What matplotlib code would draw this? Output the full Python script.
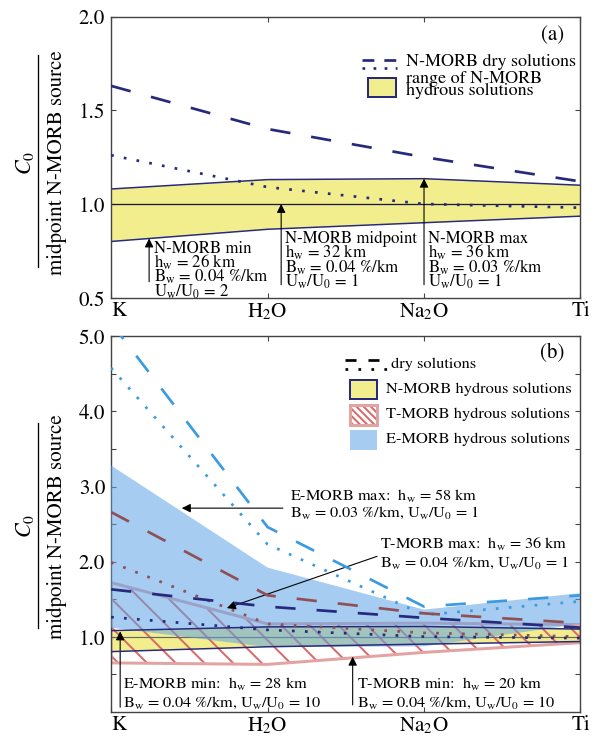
import numpy as np
import matplotlib
matplotlib.use('Agg')
import matplotlib.pyplot as plt
from matplotlib.lines import Line2D
from matplotlib.patches import Rectangle

# agg hatch tile follows the dpi, so the dpi sets the hatch spacing
DPI = 172


def px(v):
    return v * 72.0 / DPI


plt.rcParams['font.family'] = 'STIXGeneral'
plt.rcParams['mathtext.fontset'] = 'stix'
plt.rcParams['hatch.linewidth'] = px(2.0)

elements = ['K', 'H$_2$O', 'Na$_2$O', 'Ti']
x = np.arange(len(elements))

# N-MORB, shown in both panels
nmorb_dry_dash = [1.63, 1.40, 1.25, 1.12]
nmorb_dry_dot = [1.26, 1.09, 1.00, 0.98]
nmorb_hyd_lo = [0.80, 0.865, 0.90, 0.935]
nmorb_hyd_hi = [1.08, 1.13, 1.135, 1.10]
nmorb_mid = [1.0, 1.0, 1.0, 1.0]

# T-MORB and E-MORB, panel b
tmorb_dry_dash = [2.66, 1.55, 1.31, 1.18]
tmorb_dry_dot = [1.99, 1.17, 1.05, 1.00]
tmorb_hyd_lo = [0.65, 0.63, 0.79, 0.92]
tmorb_hyd_hi = [1.72, 1.17, 1.18, 1.16]
emorb_dry_dash = [5.18, 2.46, 1.40, 1.55]
emorb_dry_dot = [4.58, 2.23, 1.29, 1.47]
emorb_hyd_lo = [1.12, 0.86, 0.87, 1.17]
emorb_hyd_hi = [3.28, 1.92, 1.36, 1.58]

navy = '#26297c'
lblue = '#3a9be0'
brown = '#8e4f55'
yellow = '#f3ee8d'
blue_fill = '#5fa3e6'
hatch_red = '#d86a6a'
pink_edge = '#e3a3a3'
axcol = '#444444'

DASH = (0, (7.5, 7.8))
DOT = (0, (1.0, 3.8))
LW = px(2.7)

W, H = 598, 740
fig = plt.figure(figsize=((W + 0.5) / DPI, (H + 0.5) / DPI), dpi=DPI)
ax1 = fig.add_axes([111 / W, 1 - 298 / H, 469 / W, 281 / H])
ax2 = fig.add_axes([111 / W, 1 - 711.7 / H, 469 / W, 375 / H])


def note(ax, lines, xy, step, size=16.8):
    for i, s in enumerate(lines):
        ax.annotate(s, xy=xy, xytext=(0, -i * step), textcoords='offset pixels',
                    fontsize=px(size), ha='left', va='baseline')


def arrow(ax, tail, tip):
    ax.annotate('', xy=tip, xytext=tail,
                arrowprops=dict(arrowstyle='-|>', color='k', lw=px(1.1),
                                shrinkA=0, shrinkB=0, mutation_scale=px(18)))


# ---- panel (a)
ax1.fill_between(x, nmorb_hyd_lo, nmorb_hyd_hi, facecolor=yellow, edgecolor='none', zorder=1)
ax1.plot(x, nmorb_hyd_lo, color=navy, lw=px(1.5), zorder=2)
ax1.plot(x, nmorb_hyd_hi, color=navy, lw=px(1.5), zorder=2)
ax1.plot(x, nmorb_mid, color='#1a1a40', lw=px(1.3), zorder=2)
ax1.plot(x, nmorb_dry_dash, color=navy, lw=LW, ls=DASH, zorder=4)
ax1.plot(x, nmorb_dry_dot, color=navy, lw=LW, ls=DOT, zorder=4)

arrow(ax1, (0.243, 0.585), (0.243, 0.816))
arrow(ax1, (1.087, 0.569), (1.087, 1.0))
arrow(ax1, (2.0, 0.569), (2.0, 1.135))
note(ax1, ['N-MORB min', r'h$_{\rm w}$ = 26 km', r'B$_{\rm w}$ = 0.04 %/km',
           r'U$_{\rm w}$/U$_0$ = 2'], (0.275, 0.740), 14.3)
note(ax1, ['N-MORB midpoint', r'h$_{\rm w}$ = 32 km', r'B$_{\rm w}$ = 0.04 %/km',
           r'U$_{\rm w}$/U$_0$ = 1'], (1.113, 0.792), 14.5)
note(ax1, ['N-MORB max', r'h$_{\rm w}$ = 36 km', r'B$_{\rm w}$ = 0.03 %/km',
           r'U$_{\rm w}$/U$_0$ = 1'], (2.028, 0.792), 14.5)

# legend (a)
ax1.plot([0.535, 0.610], [0.847, 0.847], transform=ax1.transAxes, color=navy, lw=LW,
         ls=(0, (4.4, 3.7)))
ax1.plot([0.535, 0.610], [0.818, 0.818], transform=ax1.transAxes, color=navy, lw=LW,
         ls=(0, (1.0, 3.1)))
ax1.text(0.629, 0.840, 'N-MORB dry solutions', transform=ax1.transAxes, va='center',
         fontsize=px(18))
ax1.add_patch(Rectangle((0.548, 0.715), 0.060, 0.068, transform=ax1.transAxes,
                        facecolor=yellow, edgecolor=navy, lw=px(2)))
ax1.text(0.629, 0.780, 'range of N-MORB', transform=ax1.transAxes, va='center', fontsize=px(18))
ax1.text(0.629, 0.736, 'hydrous solutions', transform=ax1.transAxes, va='center', fontsize=px(18))
ax1.text(0.94, 0.936, '(a)', transform=ax1.transAxes, ha='center', va='center', fontsize=px(21))

ax1.set_ylim(0.5, 2.0)
ax1.set_yticks([0.5, 1.0, 1.5, 2.0])
ax1.set_yticklabels(['0.5', '1.0', '1.5', '2.0'])

# ---- panel (b)
ax2.fill_between(x, nmorb_hyd_lo, nmorb_hyd_hi, facecolor=yellow, edgecolor='none', zorder=1)
ax2.fill_between(x, tmorb_hyd_lo, tmorb_hyd_hi, facecolor='none', edgecolor=hatch_red,
                 hatch='\\\\', lw=0, zorder=2)
ax2.fill_between(x, tmorb_hyd_lo, tmorb_hyd_hi, facecolor='none', edgecolor=pink_edge,
                 lw=px(3), zorder=2)
ax2.plot(x, nmorb_mid, color='#666666', lw=px(1.2), zorder=2.5)
ax2.fill_between(x, emorb_hyd_lo, emorb_hyd_hi, facecolor=blue_fill, alpha=0.55,
                 edgecolor='none', zorder=3)
ax2.plot(x, nmorb_hyd_lo, color=navy, lw=px(1.5), zorder=4)
ax2.plot(x, nmorb_hyd_hi, color=navy, lw=px(1.5), zorder=4)

ax2.plot(x, emorb_dry_dash, color=lblue, lw=LW, ls=DASH, zorder=5)
ax2.plot(x, emorb_dry_dot, color=lblue, lw=LW, ls=DOT, zorder=5)
ax2.plot(x, tmorb_dry_dash, color=brown, lw=LW, ls=DASH, zorder=5)
ax2.plot(x, tmorb_dry_dot, color=brown, lw=LW, ls=DOT, zorder=5)
ax2.plot(x, nmorb_dry_dash, color=navy, lw=LW, ls=DASH, zorder=5)
ax2.plot(x, nmorb_dry_dot, color=navy, lw=LW, ls=DOT, zorder=5)

arrow(ax2, (1.098, 2.712), (0.452, 2.712))
arrow(ax2, (1.70, 2.07), (0.74, 1.38))
arrow(ax2, (0.058, 0.06), (0.058, 1.07))
arrow(ax2, (1.544, 0.09), (1.544, 0.733))
note(ax2, [r'E-MORB max:  h$_{\rm w}$ = 58 km', r'B$_{\rm w}$ = 0.03 %/km, U$_{\rm w}$/U$_0$ = 1'],
     (1.145, 2.82), 16.7, 16.3)
note(ax2, [r'T-MORB max:  h$_{\rm w}$ = 36 km', r'B$_{\rm w}$ = 0.04 %/km, U$_{\rm w}$/U$_0$ = 1'],
     (1.716, 2.18), 18.4, 16.3)
note(ax2, [r'E-MORB min:  h$_{\rm w}$ = 28 km', r'B$_{\rm w}$ = 0.04 %/km, U$_{\rm w}$/U$_0$ = 10'],
     (0.079, 0.31), 18.4, 16.3)
note(ax2, [r'T-MORB min:  h$_{\rm w}$ = 20 km', r'B$_{\rm w}$ = 0.04 %/km, U$_{\rm w}$/U$_0$ = 10'],
     (1.571, 0.31), 18.4, 16.3)

# legend (b)
ax2.plot([0.499, 0.588], [0.938, 0.938], transform=ax2.transAxes, color='k', lw=LW,
         ls=(0, (4.1, 4.4)))
ax2.plot([0.499, 0.588], [0.914, 0.914], transform=ax2.transAxes, color='k', lw=LW,
         ls=(0, (1.0, 3.8)))
ax2.text(0.597, 0.927, 'dry solutions', transform=ax2.transAxes, va='center', fontsize=px(16.4))
ax2.add_patch(Rectangle((0.510, 0.834), 0.057, 0.051, transform=ax2.transAxes,
                        facecolor=yellow, edgecolor=navy, lw=px(2)))
ax2.add_patch(Rectangle((0.510, 0.765), 0.057, 0.053, transform=ax2.transAxes,
                        facecolor='white', edgecolor=hatch_red, hatch='\\' * 8, lw=0))
ax2.add_patch(Rectangle((0.510, 0.765), 0.057, 0.053, transform=ax2.transAxes,
                        facecolor='none', edgecolor=pink_edge, lw=px(3)))
ax2.add_patch(Rectangle((0.510, 0.698), 0.057, 0.053, transform=ax2.transAxes,
                        facecolor=blue_fill, alpha=0.55, edgecolor='none'))
ax2.text(0.586, 0.860, 'N-MORB hydrous solutions', transform=ax2.transAxes, va='center',
         fontsize=px(16.4))
ax2.text(0.586, 0.794, 'T-MORB hydrous solutions', transform=ax2.transAxes, va='center',
         fontsize=px(16.4))
ax2.text(0.586, 0.727, 'E-MORB hydrous solutions', transform=ax2.transAxes, va='center',
         fontsize=px(16.4))
ax2.text(0.94, 0.957, '(b)', transform=ax2.transAxes, ha='center', va='center', fontsize=px(21))

ax2.set_ylim(0.0, 5.0)
ax2.set_yticks([1, 2, 3, 4, 5])
ax2.set_yticklabels(['1.0', '2.0', '3.0', '4.0', '5.0'])
ax2.set_yticks([0.5, 1.5, 2.5, 3.5, 4.5], minor=True)

for ax in (ax1, ax2):
    ax.set_xlim(0, 3)
    ax.set_xticks(x)
    ax.set_xticklabels(elements)
    ax.get_xticklabels()[0].set_ha('left')
    ax.tick_params(which='both', direction='in', top=True, right=True, length=px(5),
                   width=px(1.1), color=axcol, labelsize=px(21))
    ax.tick_params(axis='x', pad=px(3))
    ax.tick_params(axis='y', pad=px(6))
    for s in ax.spines.values():
        s.set_color(axcol)
        s.set_linewidth(px(1.4))

# y labels drawn as a fraction
for yc, y0, y1 in [(163, 55, 267), (526, 423, 628)]:
    fig.text(25 / W, 1 - yc / H, r'$\mathit{C}_\mathit{0}$', rotation=90, ha='center',
             va='center', fontsize=px(22))
    fig.text(57 / W, 1 - yc / H, 'midpoint N-MORB source', rotation=90, ha='center',
             va='center', fontsize=px(21))
    fig.add_artist(Line2D([38 / W, 38 / W], [1 - y0 / H, 1 - y1 / H], color='k', lw=px(1.3)))

fig.savefig('out.png', dpi=DPI)
